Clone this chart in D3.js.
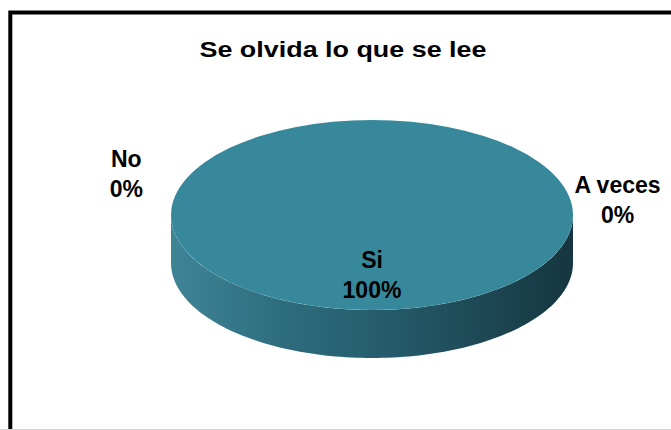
<!DOCTYPE html>
<html>
<head>
<meta charset="utf-8">
<script src="https://cdn.jsdelivr.net/npm/d3@7"></script>
<style>
  html, body { margin: 0; padding: 0; background: #fff; }
  svg { display: block; }
  text { font-family: "Liberation Sans", Arial, sans-serif; font-weight: bold; fill: #000; }
</style>
</head>
<body>
<svg id="chart" width="671" height="430"></svg>
<script>
// ---- data ----
const title = "Se olvida lo que se lee";
const categories = ["Si", "No", "A veces"];
const values = [100, 0, 0];
const percentLabels = ["100%", "0%", "0%"];

// ---- layout / style ----
const W = 671, H = 430;
const cx = 372, cy = 215, rx = 201, ry = 95, depth = 48;
const topColor = "#37889b";
// label placement (angle in radians, d3 convention, and radial factor)
const labelPlacement = {
  "Si": { angle: Math.PI, factor: 0.616 },
  "No": { angle: -1.224, factor: 1.3 },
  "A veces": { angle: 1.434, factor: 1.233 }
};

const svg = d3.select("#chart");
const defs = svg.append("defs");
const grad = defs.append("linearGradient").attr("id", "sideGrad")
  .attr("gradientUnits", "userSpaceOnUse")
  .attr("x1", cx - rx).attr("x2", cx + rx).attr("y1", 0).attr("y2", 0);
[[0, "#3f8596"], [0.25, "#2f6f80"], [0.55, "#245a69"], [0.8, "#1c4652"], [1, "#163640"]]
  .forEach(([o, c]) => grad.append("stop").attr("offset", o).attr("stop-color", c));

// frame
svg.append("rect").attr("x", 10.3).attr("y", 12.5).attr("width", 720).attr("height", 500)
  .attr("fill", "none").attr("stroke", "#000").attr("stroke-width", 4);
svg.append("line").attr("x1", 0).attr("x2", W).attr("y1", 429.5).attr("y2", 429.5)
  .attr("stroke", "#d4d4d4").attr("stroke-width", 1);

// title
svg.append("text").attr("x", 343).attr("y", 56.5).attr("text-anchor", "middle")
  .attr("font-size", 22).attr("textLength", 287).attr("lengthAdjust", "spacingAndGlyphs")
  .text(title);

const pie = d3.pie().sort(null).value(d => d)(values);
const ex = a => cx + rx * Math.sin(a);
const ey = (a, dy = 0) => cy - ry * Math.cos(a) + dy;

// side walls (front half only)
const g = svg.append("g");
pie.forEach(p => {
  if (p.endAngle - p.startAngle <= 0) return;
  const s = Math.max(p.startAngle, Math.PI / 2);
  const e = Math.min(p.endAngle, 3 * Math.PI / 2);
  if (e <= s) return;
  const steps = 120;
  const pts = d3.range(steps + 1).map(i => s + (e - s) * i / steps);
  let path = "M" + pts.map(a => [ex(a), ey(a)].join(",")).join("L");
  path += "L" + pts.slice().reverse().map(a => [ex(a), ey(a, depth)].join(",")).join("L") + "Z";
  g.append("path").attr("d", path).attr("fill", "url(#sideGrad)");
});

// top face
const arc = d3.arc().innerRadius(0).outerRadius(rx);
g.append("g").attr("transform", `translate(${cx},${cy}) scale(1,${ry / rx})`)
  .selectAll("path").data(pie.filter(p => p.value > 0)).join("path")
  .attr("d", arc).attr("fill", topColor);

// labels
categories.forEach((c, i) => {
  const lp = labelPlacement[c];
  const x = cx + rx * lp.factor * Math.sin(lp.angle);
  const y = cy - ry * lp.factor * Math.cos(lp.angle);
  const t = svg.append("text").attr("text-anchor", "middle").attr("font-size", 23);
  t.append("tspan").attr("x", x).attr("y", y - 6).text(c);
  t.append("tspan").attr("x", x).attr("y", y + 24).text(percentLabels[i]);
});
</script>
</body>
</html>
